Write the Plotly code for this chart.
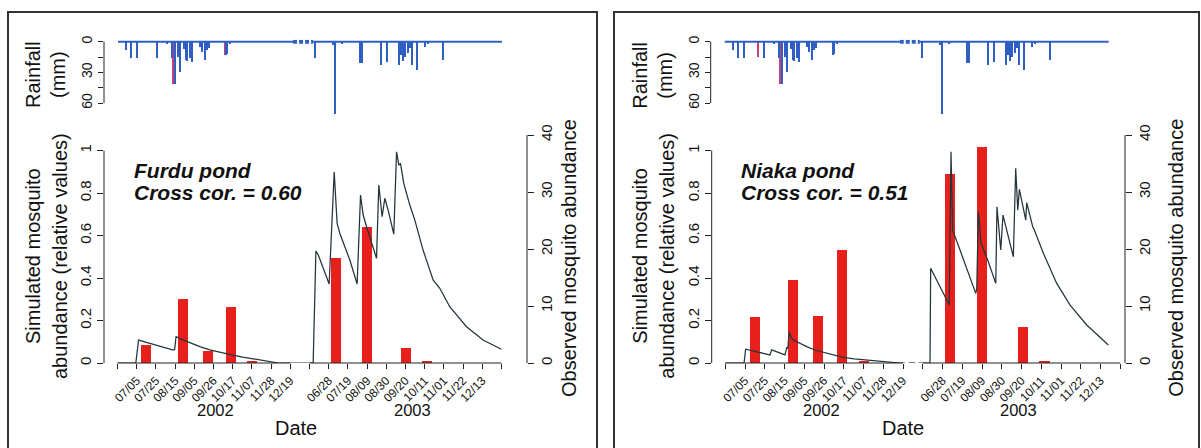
import plotly.graph_objects as go

W, H = 1201, 448
FONT = "Liberation Sans, Arial, sans-serif"

# ---------------------------------------------------------------------------
# Data. Positions are days along a compressed season axis:
# 2002 season counted from 5 Jul 2002 (day 0), 2003 season starts at day 210
# (28 Jun 2003), the dry season in between is cut out.
# ---------------------------------------------------------------------------
tick_days = list(range(-21, 400, 21))
tick_text = ["", "07/05", "07/25", "08/15", "09/05", "09/26", "10/17", "11/07", "11/28", "12/19", "",
             "06/28", "07/19", "08/09", "08/30", "09/20", "10/11", "11/01", "11/22", "12/13", ""]
axis_pieces = [(-21, 168), (189, 399)]   # the axis is broken between the two seasons

# daily rainfall (mm)
rain_day = [-12, -5.5, 0, 21.9, 33.1, 38.3, 41.9, 45.5, 48.1, 51.7, 53.9, 55.7, 58.3, 60.4, 69.2,
            71.7, 74.6, 77.2, 79, 97.6, 99, 102.7, 194.9, 214.5, 217.5, 224.4, 244.9, 246.4, 267.8,
            273.9, 287, 288.9, 291.4, 293.2, 296.8, 298.7, 301.6, 306.7, 315.1, 318.4, 335.1]
rain_mm = [8, 16, 16, 16, 2, 16, 41, 15, 29, 7, 18, 19, 16, 20, 5,
           10, 18, 8, 6, 13, 12, 2, 16, 3, 70, 1, 21, 21, 22,
           20, 22, 13, 19, 15, 11, 6, 22, 27, 5, 1, 18]
rain_record = [-20.4, 399.5]      # span of the rainfall record
rain_gap = [171, 193]             # no record between seasons

# second rain gauge, partly hidden behind the first
furdu_rain2_day = [40.6, 97.0]
furdu_rain2_mm = [41, 13]
niaka_rain2_day = [16.5, 40.6]
niaka_rain2_mm = [15, 41]

# field sampling days and observed abundance
sample_day = [10.5, 51, 77.5, 103, 126, 217.7, 251.5, 295, 318]
furdu_obs = [3.2, 11.2, 2.1, 9.9, 0.2, 18.4, 23.9, 2.7, 0.3]
niaka_obs = [8.1, 14.6, 8.3, 19.8, 0.2, 33.1, 37.9, 6.3, 0.4]

# simulated abundance (relative values); None marks days without output
furdu_sim_day = [-21, -1, 2, 10, 20, 30, 40, 41.5, 43, 50, 60, 69, 80, 92, 105, 116, 127, 137, 147, 155,
                 193, 196, 198.5, 210.5, 216, 219.2, 222.2, 233.1, 241.1, 244.8, 247.7, 251.4, 262.3,
                 264.8, 268.4, 271.4, 275, 281.2, 284.2, 286.7, 288.5, 292.1, 298.7, 304.2, 313.2,
                 324.2, 331.5, 342.4, 360.7, 378.8, 398.9]
furdu_sim = [0, 0, 0.108, 0.098, 0.086, 0.073, 0.061, 0.064, 0.124, 0.11, 0.092, 0.077, 0.062, 0.049,
             0.037, 0.028, 0.020, 0.011, 0.004, 0,
             0, 0.527, 0.51, 0.372, 0.90, 0.658, 0.61, 0.485, 0.372, 0.791, 0.697, 0.642, 0.493,
             0.838, 0.689, 0.776, 0.72, 0.607, 0.995, 0.932, 0.94, 0.846, 0.744, 0.673, 0.532,
             0.391, 0.352, 0.265, 0.171, 0.108, 0.0645]

niaka_sim_day = [-21, -1, 0.7, 10, 20, 26.6, 28.4, 35, 42.5, 44.5, 45.5, 47, 49, 51.4, 58, 65.6, 75,
                 86.9, 95, 104.5, 116, 129.4, 143, 157.4, 165, 170, 171, 174, 181, 182, 184,
                 196.7, 197.4, 205, 217.2, 219.0, 220.8, 228.6, 237.4, 245.3, 246.4, 248.1, 250.9,
                 258.7, 266.6, 267.9, 271.9, 274.3, 285.3, 287.8, 290.0, 291.7, 298.5, 299.5, 305.9,
                 307.3, 317.2, 331.4, 345.6, 363.3, 386.3]
niaka_sim = [0, 0, 0.065, 0.055, 0.045, 0.038, 0.062, 0.05, 0.038, 0.075, 0.068, 0.145, 0.12, 0.108,
             0.092, 0.077, 0.06, 0.046, 0.036, 0.027, 0.019, 0.013, 0.007, 0.003, 0, 0, None, 0, 0,
             None, 0,
             0, 0.446, 0.38, 0.273, 0.995, 0.626, 0.532, 0.422, 0.328, 0.35, 0.713, 0.564,
             0.477, 0.375, 0.736, 0.532, 0.697, 0.50, 0.917, 0.72, 0.818, 0.673, 0.755, 0.642,
             0.63, 0.517, 0.375, 0.273, 0.179, 0.085]

panels = [
    dict(name="Furdu pond", cc="0.60", obs=furdu_obs, sim_day=furdu_sim_day, sim=furdu_sim,
         rain2_day=furdu_rain2_day, rain2_mm=furdu_rain2_mm,
         dx=0, main_px=(104, 527), main_range=(-35.8, 426.9)),
    dict(name="Niaka pond", cc="0.51", obs=niaka_obs, sim_day=niaka_sim_day, sim=niaka_sim,
         rain2_day=niaka_rain2_day, rain2_mm=niaka_rain2_mm,
         dx=606.7, main_px=(711.7, 1125), main_range=(-35.4, 404.0)),
]

# ---------------------------------------------------------------------------
RAIN_BLUE = "#2f5fc4"
RAIN_RED = "#c8407a"
BAR_RED = "#e8201c"
LINE_COL = "#23343b"
AX_COL = "#222222"
TXT = "#111111"

MAIN_TOP, MAIN_BOT = 135, 363            # pixel rows of the main plot area
RAIN_TOP, RAIN_BOT = 39.7, 115           # pixel rows of the rainfall strip
RAIN_PX_PER_MM = 1.023
REL_MAX = (MAIN_BOT - MAIN_TOP) / 212.3  # left axis upper limit


def px_x(p):
    return p / W


def px_y(p):
    return 1 - p / H


fig = go.Figure()
layout = dict(
    template="none",
    width=W, height=H, margin=dict(l=0, r=0, t=0, b=0, pad=0, autoexpand=False),
    paper_bgcolor="white", plot_bgcolor="rgba(0,0,0,0)",
    showlegend=False, font=dict(family=FONT, color=TXT),
    bargap=0, barmode="overlay",
)
shapes = []
annotations = []

rain_range = (-35.8, 426.9)
rain_y_range = [(RAIN_BOT - 41.7) / RAIN_PX_PER_MM, (RAIN_TOP - 41.7) / RAIN_PX_PER_MM]


def ann(text, x, y, size, angle=0, **kw):
    annotations.append(dict(text=text, x=px_x(x), y=px_y(y), xref="paper", yref="paper",
                            showarrow=False, textangle=angle,
                            font=dict(family=FONT, size=size, color=TXT), **kw))


def sfx(n):
    return "" if n == 1 else str(n)


for i, p in enumerate(panels):
    k = 3 * i
    xa, ya_obs, ya_sim, xr, yr = (f"x{sfx(k + 1)}", f"y{sfx(k + 1)}", f"y{k + 2}",
                                  f"x{k + 3}", f"y{k + 3}")
    x0, x1 = p["main_px"]
    dx = p["dx"]

    # observed abundance (right axis)
    fig.add_trace(go.Bar(x=sample_day, y=p["obs"], width=11, xaxis=xa, yaxis=ya_obs,
                         marker=dict(color=BAR_RED, line=dict(width=0))))
    # simulated abundance (left axis)
    fig.add_trace(go.Scatter(x=p["sim_day"], y=p["sim"], mode="lines", xaxis=xa, yaxis=ya_sim,
                             connectgaps=False, line=dict(color=LINE_COL, width=1.25)))
    # rainfall strip
    fig.add_trace(go.Bar(x=[d - 0.7 for d in p["rain2_day"]], y=p["rain2_mm"], width=1.1,
                         xaxis=xr, yaxis=yr, marker=dict(color=RAIN_RED, line=dict(width=0))))
    fig.add_trace(go.Bar(x=rain_day, y=rain_mm, width=1.6, xaxis=xr, yaxis=yr,
                         marker=dict(color=RAIN_BLUE, line=dict(width=0))))
    fig.add_trace(go.Scatter(x=[rain_record[0], rain_gap[0], None, rain_gap[1], rain_record[1]],
                             y=[0, 0, None, 0, 0], mode="lines", xaxis=xr, yaxis=yr,
                             line=dict(color=RAIN_BLUE, width=2)))
    fig.add_trace(go.Scatter(x=rain_gap, y=[0, 0], mode="lines", xaxis=xr, yaxis=yr,
                             line=dict(color=RAIN_BLUE, width=4, dash="4px,2px")))

    tickfont = dict(family=FONT, size=15, color=TXT)
    common = dict(showgrid=False, zeroline=False, showline=False, automargin=False,
                  ticks="outside", tickcolor=AX_COL, tickmode="array")
    layout[f"xaxis{sfx(k + 1)}"] = dict(
        common, domain=[px_x(x0), px_x(x1)], range=list(p["main_range"]), anchor=ya_obs,
        tickvals=tick_days, ticktext=tick_text, ticklen=5, tickangle=-45,
        tickfont=dict(family=FONT, size=12, color=TXT))
    layout[f"yaxis{sfx(k + 1)}"] = dict(
        common, domain=[px_y(MAIN_BOT), px_y(MAIN_TOP)], range=[0, 40], anchor=xa,
        side="right", tickvals=[0, 10, 20, 30, 40], ticklen=6, tickangle=-90, tickfont=tickfont)
    layout[f"yaxis{k + 2}"] = dict(
        common, domain=[px_y(MAIN_BOT), px_y(MAIN_TOP)], range=[0, REL_MAX],
        anchor=xa, overlaying=ya_obs, side="left",
        tickvals=[0, 0.2, 0.4, 0.6, 0.8, 1], ticktext=["0", "0.2", "0.4", "0.6", "0.8", "1"],
        ticklen=6, tickangle=-90, tickfont=tickfont)
    layout[f"xaxis{k + 3}"] = dict(domain=[px_x(104 + dx), px_x(527 + dx)], range=list(rain_range),
                                   anchor=yr, visible=False, automargin=False)
    layout[f"yaxis{k + 3}"] = dict(
        common, domain=[px_y(RAIN_BOT), px_y(RAIN_TOP)], range=rain_y_range, anchor=xr,
        tickvals=[0, 15, 30, 45, 60], ticktext=["0", "", "30", "", "60"],
        ticklen=5, tickangle=-90, tickfont=dict(family=FONT, size=14, color=TXT))

    # axis lines spanning the labelled ranges
    for a, b in axis_pieces:
        shapes.append(dict(type="line", xref=xa, yref=f"{ya_sim} domain", x0=a, x1=b, y0=0, y1=0,
                           line=dict(color=AX_COL, width=1)))
    shapes.append(dict(type="line", xref=f"{xa} domain", yref=ya_sim, x0=0, x1=0, y0=0, y1=1,
                       line=dict(color=AX_COL, width=1)))
    shapes.append(dict(type="line", xref=f"{xa} domain", yref=ya_obs, x0=1, x1=1, y0=0, y1=40,
                       line=dict(color=AX_COL, width=1)))
    shapes.append(dict(type="line", xref=f"{xr} domain", yref=yr, x0=0, x1=0, y0=0, y1=60,
                       line=dict(color=AX_COL, width=1)))

    # panel frame
    shapes.append(dict(type="rect", xref="paper", yref="paper",
                       x0=px_x(8 + (606 if i else 0)), x1=px_x(597 + (602 if i else 0)),
                       y0=px_y(452), y1=px_y(12), line=dict(color="#333333", width=2)))

    ann("Rainfall", 33 + dx, 75, 20, -90, xanchor="center", yanchor="middle")
    ann("(mm)", 58 + dx, 75, 20, -90, xanchor="center", yanchor="middle")
    ann("Simulated mosquito", 33 + dx, 256, 20, -90, xanchor="center", yanchor="middle")
    ann("abundance (relative values)", 60 + dx, 256, 20, -90, xanchor="center", yanchor="middle")
    ann("Observed mosquito abundance", 569 + dx, 258, 20, -90, xanchor="center", yanchor="middle")
    ann("Date", 296 + dx, 428, 20, xanchor="center", yanchor="middle")
    ann("2002", 215 + dx, 410, 16.5, xanchor="center", yanchor="middle")
    ann("2003", 412 + dx, 410, 16.5, xanchor="center", yanchor="middle")
    ann(f"<b><i>{p['name']}</i></b>", 132 + dx, 170, 21, xanchor="left", yanchor="middle")
    ann(f"<b><i>Cross cor. = {p['cc']}</i></b>", 132 + dx, 192, 21, xanchor="left",
        yanchor="middle")

layout["shapes"] = shapes
layout["annotations"] = annotations
fig.update_layout(**layout)
fig.write_html("out.html")
